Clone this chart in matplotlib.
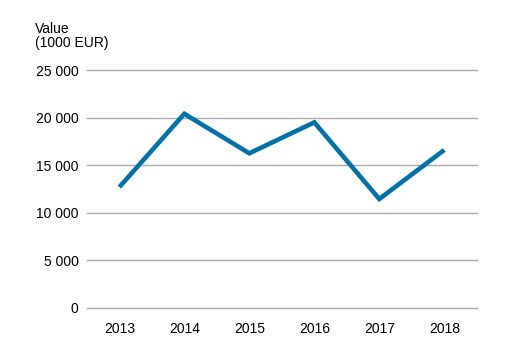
import matplotlib
matplotlib.use('Agg')
from matplotlib import pyplot as plt
from matplotlib.ticker import FuncFormatter

years = ["2013", "2014", "2015", "2016", "2017", "2018"]
values = [12700, 20400, 16250, 19500, 11450, 16600]
y_ticks = [0, 5000, 10000, 15000, 20000, 25000]

plt.rcParams['font.family'] = ['Liberation Sans', 'DejaVu Sans']
plt.rcParams['font.size'] = 10

fig = plt.figure(figsize=(5.11, 3.61), dpi=100)
ax = fig.add_axes([0.170, 0.147, 0.763, 0.659])

ax.plot(range(len(years)), values, color="#0072aa", linewidth=3.3,
        solid_capstyle='butt', solid_joinstyle='miter', zorder=3)

ax.set_xlim(-0.5, len(years) - 0.5)
ax.set_ylim(0, 25000)
ax.set_xticks(range(len(years)))
ax.set_xticklabels(years)
ax.set_yticks(y_ticks)
ax.yaxis.set_major_formatter(FuncFormatter(lambda v, p: f"{int(v):,}".replace(",", " ")))
ax.grid(axis='y', color="#aaaaaa", linewidth=1)
for gl in ax.get_ygridlines():
  gl.set_clip_on(False)
ax.set_axisbelow(True)
for s in ax.spines.values():
  s.set_visible(False)
ax.tick_params(axis='both', length=0, colors='black', labelsize=10)
ax.tick_params(axis='y', pad=6)
ax.tick_params(axis='x', pad=10)

fig.text(35 / 511, 1 - 22 / 361, "Value\n(1000 EUR)", ha='left', va='top',
         fontsize=10, linespacing=1.0)

plt.savefig("out.png", dpi=100)
plt.close(fig)
